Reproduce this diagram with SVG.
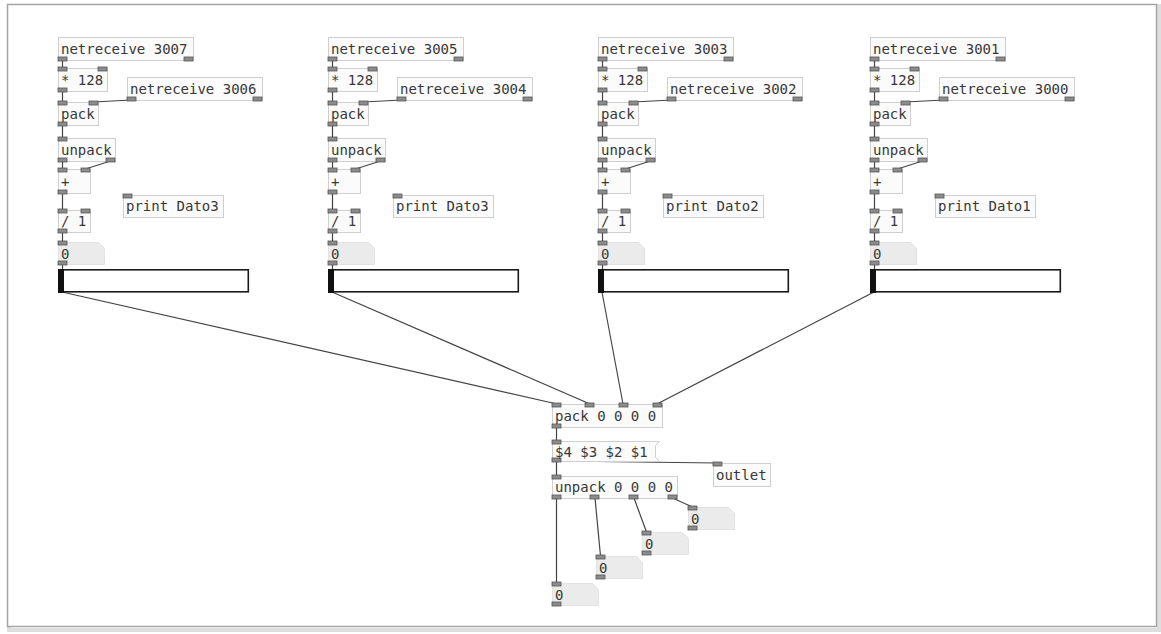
<svg xmlns="http://www.w3.org/2000/svg" xmlns:xlink="http://www.w3.org/1999/xlink" width="1161" height="634" viewBox="0 0 1161 634">
<style>
.obj{fill:#fbfbfb;stroke:#cfcfcf;stroke-width:1}
.io{fill:#8c8c8c;stroke:#555;stroke-width:0.8}
.t{font-family:"DejaVu Sans Mono",monospace;font-size:14px;fill:#383838}
.cord{stroke:#444;stroke-width:1.2;fill:none}
.nbx{fill:#ebebeb;stroke:#e2e2e2;stroke-width:1}
.sl{fill:#fff;stroke:#1a1a1a;stroke-width:1.6}
.knob{fill:#111}
</style>
<rect x="0" y="0" width="1161" height="634" fill="#ffffff"/>
<rect x="9" y="6" width="1150" height="624" fill="none" stroke="#dedede" stroke-width="4"/>
<rect x="7.5" y="4.5" width="1149" height="622" fill="#ffffff" stroke="#a5a5a5" stroke-width="1.5"/>

<g id="connectors">
<line class="cord" x1="62" y1="292" x2="557" y2="404"/>
<line class="cord" x1="332" y1="292" x2="590" y2="404"/>
<line class="cord" x1="602" y1="292" x2="623" y2="404"/>
<line class="cord" x1="874" y1="292" x2="657" y2="404"/>
<line class="cord" x1="556.5" y1="427" x2="556.5" y2="441"/>
<line class="cord" x1="556.5" y1="461" x2="717.5" y2="463"/>
<line class="cord" x1="556.5" y1="461" x2="556.5" y2="476"/>
<line class="cord" x1="556.5" y1="498" x2="556.5" y2="583"/>
<line class="cord" x1="595" y1="498" x2="600.5" y2="556"/>
<line class="cord" x1="634" y1="498" x2="646.5" y2="532"/>
<line class="cord" x1="672.5" y1="498" x2="692.5" y2="507"/>
<g id="col-cords">
<path class="cord" d="M62.5 61V68M62.5 91V102M131.5 100L93.5 102M62.5 125V138M62.5 161V169M110.5 161L85.5 169M62.5 193V210M62.5 232V242M62.5 264V269"/>
<path class="cord" transform="translate(270 0)" d="M62.5 61V68M62.5 91V102M131.5 100L93.5 102M62.5 125V138M62.5 161V169M110.5 161L85.5 169M62.5 193V210M62.5 232V242M62.5 264V269"/>
<path class="cord" transform="translate(540 0)" d="M62.5 61V68M62.5 91V102M131.5 100L93.5 102M62.5 125V138M62.5 161V169M110.5 161L85.5 169M62.5 193V210M62.5 232V242M62.5 264V269"/>
<path class="cord" transform="translate(812 0)" d="M62.5 61V68M62.5 91V102M131.5 100L93.5 102M62.5 125V138M62.5 161V169M110.5 161L85.5 169M62.5 193V210M62.5 232V242M62.5 264V269"/>
</g>
</g>

<defs>
<g id="colshapes">
<rect class="obj" x="58.5" y="37.5" width="135" height="23"/>
<rect class="io" x="58" y="57" width="9" height="4"/><rect class="io" x="184" y="57" width="9" height="4"/>
<rect class="obj" x="58.5" y="68.5" width="49" height="23"/>
<rect class="io" x="58" y="67" width="9" height="4"/><rect class="io" x="98" y="67" width="9" height="4"/><rect class="io" x="58" y="88" width="9" height="4"/>
<rect class="obj" x="127.5" y="77.5" width="135" height="23"/>
<rect class="io" x="127" y="97" width="9" height="4"/><rect class="io" x="253" y="97" width="9" height="4"/>
<rect class="obj" x="58.5" y="102.5" width="40" height="23"/>
<rect class="io" x="58" y="101" width="9" height="4"/><rect class="io" x="89" y="101" width="9" height="4"/><rect class="io" x="58" y="122" width="9" height="4"/>
<rect class="obj" x="58.5" y="138.5" width="57" height="23"/>
<rect class="io" x="58" y="137" width="9" height="4"/><rect class="io" x="58" y="158" width="9" height="4"/><rect class="io" x="106" y="158" width="9" height="4"/>
<rect class="obj" x="58.5" y="169.5" width="32" height="24"/>
<rect class="io" x="58" y="168" width="9" height="4"/><rect class="io" x="81" y="168" width="9" height="4"/><rect class="io" x="58" y="190" width="9" height="4"/>
<rect class="obj" x="123.5" y="195.5" width="100" height="22"/>
<rect class="io" x="123" y="194" width="9" height="4"/>
<rect class="obj" x="58.5" y="210.5" width="32" height="22"/>
<rect class="io" x="58" y="209" width="9" height="4"/><rect class="io" x="81" y="209" width="9" height="4"/><rect class="io" x="58" y="229" width="9" height="4"/>
<path class="nbx" d="M58.5 242.5H98.5L104.5 248.5V264.5H58.5Z"/>
<rect class="io" x="58" y="241" width="9" height="4"/><rect class="io" x="58" y="261" width="9" height="4"/>
<rect class="sl" x="58.8" y="269.8" width="189.5" height="22"/>
<rect class="knob" x="58" y="269" width="6" height="24"/>
</g>
</defs>

<g id="column1">
<use xlink:href="#colshapes" href="#colshapes"/>
<text class="t" x="61" y="54">netreceive 3007</text>
<text class="t" x="61" y="85">* 128</text>
<text class="t" x="130" y="94">netreceive 3006</text>
<text class="t" x="61" y="119">pack</text>
<text class="t" x="61" y="155">unpack</text>
<text class="t" x="61" y="187">+</text>
<text class="t" x="126" y="211">print Dato3</text>
<text class="t" x="61" y="226">/ 1</text>
<text class="t" x="61" y="259">0</text>
</g>
<g id="column2" transform="translate(270 0)">
<use xlink:href="#colshapes" href="#colshapes"/>
<text class="t" x="61" y="54">netreceive 3005</text>
<text class="t" x="61" y="85">* 128</text>
<text class="t" x="130" y="94">netreceive 3004</text>
<text class="t" x="61" y="119">pack</text>
<text class="t" x="61" y="155">unpack</text>
<text class="t" x="61" y="187">+</text>
<text class="t" x="126" y="211">print Dato3</text>
<text class="t" x="61" y="226">/ 1</text>
<text class="t" x="61" y="259">0</text>
</g>
<g id="column3" transform="translate(540 0)">
<use xlink:href="#colshapes" href="#colshapes"/>
<text class="t" x="61" y="54">netreceive 3003</text>
<text class="t" x="61" y="85">* 128</text>
<text class="t" x="130" y="94">netreceive 3002</text>
<text class="t" x="61" y="119">pack</text>
<text class="t" x="61" y="155">unpack</text>
<text class="t" x="61" y="187">+</text>
<text class="t" x="126" y="211">print Dato2</text>
<text class="t" x="61" y="226">/ 1</text>
<text class="t" x="61" y="259">0</text>
</g>
<g id="column4" transform="translate(812 0)">
<use xlink:href="#colshapes" href="#colshapes"/>
<text class="t" x="61" y="54">netreceive 3001</text>
<text class="t" x="61" y="85">* 128</text>
<text class="t" x="130" y="94">netreceive 3000</text>
<text class="t" x="61" y="119">pack</text>
<text class="t" x="61" y="155">unpack</text>
<text class="t" x="61" y="187">+</text>
<text class="t" x="126" y="211">print Dato1</text>
<text class="t" x="61" y="226">/ 1</text>
<text class="t" x="61" y="259">0</text>
</g>

<g id="pack4">
<rect class="obj" x="552.5" y="404.5" width="110" height="23"/>
<rect class="io" x="552" y="403" width="9" height="4"/><rect class="io" x="585" y="403" width="9" height="4"/><rect class="io" x="619" y="403" width="9" height="4"/><rect class="io" x="653" y="403" width="9" height="4"/>
<rect class="io" x="552" y="424" width="9" height="4"/>
<text class="t" x="555" y="421">pack 0 0 0 0</text>
</g>
<g id="msg">
<path class="obj" d="M552.5 441.5H659.5L655.5 445.5V457.5L659.5 461.5H552.5Z"/>
<rect class="io" x="552" y="440" width="9" height="4"/><rect class="io" x="552" y="458" width="9" height="4"/>
<text class="t" x="555" y="457">$4 $3 $2 $1</text>
</g>
<g id="outlet">
<rect class="obj" x="713.5" y="463.5" width="57" height="23"/>
<rect class="io" x="713" y="462" width="9" height="4"/>
<text class="t" x="716" y="480">outlet</text>
</g>
<g id="unpack4">
<rect class="obj" x="552.5" y="476.5" width="125" height="22"/>
<rect class="io" x="552" y="475" width="9" height="4"/>
<rect class="io" x="552" y="495" width="9" height="4"/><rect class="io" x="590" y="495" width="9" height="4"/><rect class="io" x="629" y="495" width="9" height="4"/><rect class="io" x="668" y="495" width="9" height="4"/>
<text class="t" x="555" y="492">unpack 0 0 0 0</text>
</g>
<g id="num4">
<path class="nbx" d="M688.5 507.5H728.5L734.5 513.5V529.5H688.5Z"/>
<rect class="io" x="688" y="506" width="9" height="4"/><rect class="io" x="688" y="526" width="9" height="4"/>
<text class="t" x="691" y="524">0</text>
</g>
<g id="num3">
<path class="nbx" d="M642.5 532.5H682.5L688.5 538.5V554.5H642.5Z"/>
<rect class="io" x="642" y="531" width="9" height="4"/><rect class="io" x="642" y="551" width="9" height="4"/>
<text class="t" x="645" y="549">0</text>
</g>
<g id="num2">
<path class="nbx" d="M596.5 556.5H636.5L642.5 562.5V578.5H596.5Z"/>
<rect class="io" x="596" y="555" width="9" height="4"/><rect class="io" x="596" y="575" width="9" height="4"/>
<text class="t" x="599" y="573">0</text>
</g>
<g id="num1">
<path class="nbx" d="M552.5 583.5H592.5L598.5 589.5V605.5H552.5Z"/>
<rect class="io" x="552" y="582" width="9" height="4"/><rect class="io" x="552" y="602" width="9" height="4"/>
<text class="t" x="555" y="600">0</text>
</g>
</svg>
